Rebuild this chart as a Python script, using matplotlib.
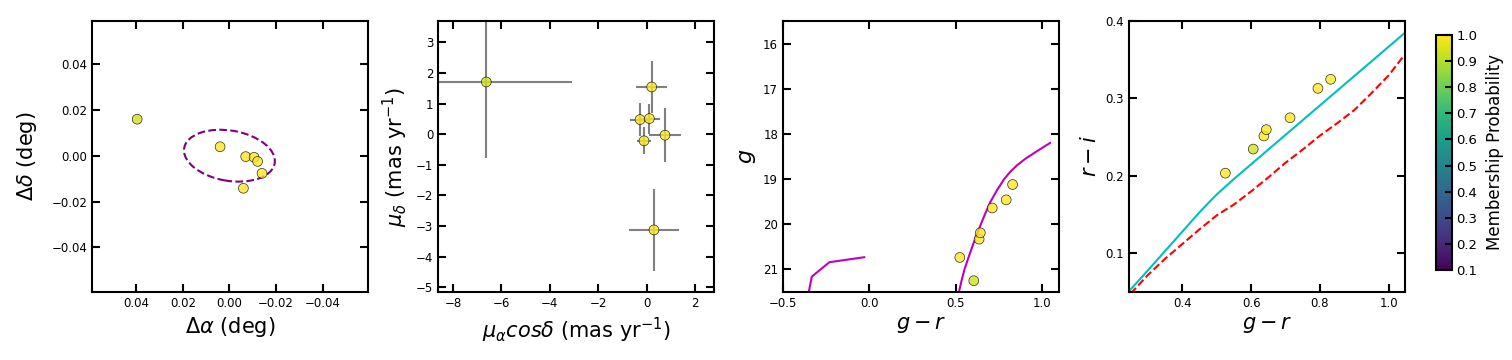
import numpy as np
import matplotlib
matplotlib.use('Agg')
import matplotlib.pyplot as plt
from matplotlib.patches import Ellipse

# member stars
prob = [0.94, 1.0, 1.0, 1.0, 1.0, 1.0, 1.0]
d_ra = [0.0396, 0.0040, -0.0070, -0.0106, -0.0121, -0.0140, -0.0060]
d_dec = [0.0159, 0.0039, -0.0004, -0.0007, -0.0025, -0.0077, -0.0142]
pmra = [-6.625, 0.206, -0.275, 0.110, -0.110, 0.756, 0.300]
pmdec = [1.707, 1.543, 0.478, 0.510, -0.217, -0.033, -3.130]
pmra_err = [3.53, 0.63, 0.41, 0.45, 0.27, 0.66, 1.04]
pmdec_err = [2.50, 0.85, 0.54, 0.49, 0.44, 0.88, 1.35]
g_r = [0.606, 0.525, 0.637, 0.644, 0.713, 0.794, 0.831]
g_mag = [21.25, 20.735, 20.33, 20.19, 19.64, 19.46, 19.12]
r_i = [0.2346, 0.2035, 0.2515, 0.2597, 0.275, 0.313, 0.3247]

# half-light ellipse
ell_width = 0.0394
ell_height = 0.0219
ell_angle = 9.85

# isochrone (g vs g-r)
iso_gr = [0.505, 0.520, 0.535, 0.552, 0.574, 0.597, 0.621, 0.647, 0.674,
          0.703, 0.740, 0.782, 0.815, 0.855, 0.905, 0.965, 1.015, 1.048]
iso_g = [21.75, 21.50, 21.25, 21.00, 20.75, 20.50, 20.25, 20.00, 19.75,
         19.50, 19.25, 19.00, 18.85, 18.70, 18.55, 18.40, 18.28, 18.20]
hb_gr = [-0.36, -0.350, -0.333, -0.231, -0.029]
hb_g = [21.6, 21.49, 21.16, 20.84, 20.73]

# colour-colour loci
loc1_gr = [0.245, 0.30, 0.35, 0.40, 0.45, 0.48, 0.50, 0.55, 0.60, 0.65, 0.70,
           0.75, 0.80, 0.85, 0.90, 0.95, 1.00, 1.05]
loc1_ri = [0.051, 0.078, 0.103, 0.128, 0.153, 0.167, 0.176, 0.196, 0.215, 0.234,
           0.253, 0.272, 0.291, 0.310, 0.329, 0.348, 0.367, 0.386]
loc2_gr = [0.25, 0.30, 0.35, 0.40, 0.45, 0.50, 0.525, 0.55, 0.60, 0.65, 0.70,
           0.75, 0.80, 0.85, 0.90, 0.95, 1.00, 1.045]
loc2_ri = [0.048, 0.072, 0.093, 0.112, 0.131, 0.149, 0.156, 0.163, 0.180, 0.198,
           0.217, 0.234, 0.252, 0.268, 0.285, 0.307, 0.330, 0.356]

plt.rcParams['axes.linewidth'] = 1.5

fig = plt.figure(figsize=(15.12, 3.6), dpi=100)
W = 276 / 1512
H = 271 / 360
B = 68 / 360
ax1 = fig.add_axes([92 / 1512, B, W, H])
ax2 = fig.add_axes([438 / 1512, B, W, H])
ax3 = fig.add_axes([783 / 1512, B, W, H])
ax4 = fig.add_axes([1129 / 1512, B, W, H])
cax = fig.add_axes([1436 / 1512, 90 / 360, 16 / 1512, 235 / 360])

sc_kw = dict(c=prob, cmap='viridis', vmin=0.1, vmax=1.0, s=50,
             edgecolors='k', linewidths=0.5, alpha=0.8, zorder=3)

# panel 1: positions
sc = ax1.scatter(d_ra, d_dec, **sc_kw)
ax1.add_patch(Ellipse((0.0, 0.0), ell_width, ell_height, angle=ell_angle,
                      fill=False, ec='purple', ls='--', lw=1.5))
ax1.set_xlim(0.059, -0.0595)
ax1.set_ylim(-0.0594, 0.0587)
ax1.set_xticks([0.04, 0.02, 0.0, -0.02, -0.04])
ax1.set_yticks([-0.04, -0.02, 0.0, 0.02, 0.04])
ax1.set_xlabel(r'$\Delta\alpha$ (deg)', fontsize=15)
ax1.set_ylabel(r'$\Delta\delta$ (deg)', fontsize=15, labelpad=9)

# panel 2: proper motions
ax2.errorbar(pmra, pmdec, xerr=pmra_err, yerr=pmdec_err, fmt='none',
             ecolor='gray', elinewidth=1.5, zorder=2)
ax2.scatter(pmra, pmdec, **sc_kw)
ax2.set_xlim(-8.62, 2.78)
ax2.set_ylim(-5.16, 3.70)
ax2.set_xticks([-8, -6, -4, -2, 0, 2])
ax2.set_yticks(range(-5, 4))
ax2.set_xlabel(r'$\mu_{\alpha}cos\delta$ (mas yr$^{-1}$)', fontsize=15)
ax2.set_ylabel(r'$\mu_{\delta}$ (mas yr$^{-1}$)', fontsize=15)

# panel 3: CMD
ax3.plot(iso_gr, iso_g, color='m', lw=1.5)
ax3.plot(hb_gr, hb_g, color='m', lw=1.5)
ax3.scatter(g_r, g_mag, **sc_kw)
ax3.set_xlim(-0.5, 1.1)
ax3.set_ylim(21.5, 15.5)
ax3.set_xticks([-0.5, 0.0, 0.5, 1.0])
ax3.set_yticks([16, 17, 18, 19, 20, 21])
ax3.set_xlabel(r'$g-r$', fontsize=15)
ax3.set_ylabel(r'$g$', fontsize=16)

# panel 4: colour-colour
ax4.plot(loc1_gr, loc1_ri, color='c', lw=1.5)
ax4.plot(loc2_gr, loc2_ri, color='r', ls='--', lw=1.5)
ax4.scatter(g_r, r_i, **sc_kw)
ax4.set_xlim(0.245, 1.047)
ax4.set_ylim(0.05, 0.4)
ax4.set_xticks([0.4, 0.6, 0.8, 1.0])
ax4.set_yticks([0.1, 0.2, 0.3, 0.4])
ax4.set_xlabel(r'$g-r$', fontsize=15)
ax4.set_ylabel(r'$r-i$', fontsize=15)

for ax in [ax1, ax2, ax3, ax4]:
    ax.tick_params(direction='in', top=True, right=True, length=5.5,
                   width=1.5, labelsize=8.5)

cb = fig.colorbar(sc, cax=cax)
cb.solids.set(alpha=1)
cb.set_ticks(np.arange(0.1, 1.01, 0.1))
cb.ax.tick_params(direction='in', length=5, width=1.5, labelsize=9.5, pad=3)
cb.outline.set_linewidth(1.5)
cb.set_label('Membership Probability', fontsize=12, labelpad=6)

fig.savefig('out.png', dpi=100)
